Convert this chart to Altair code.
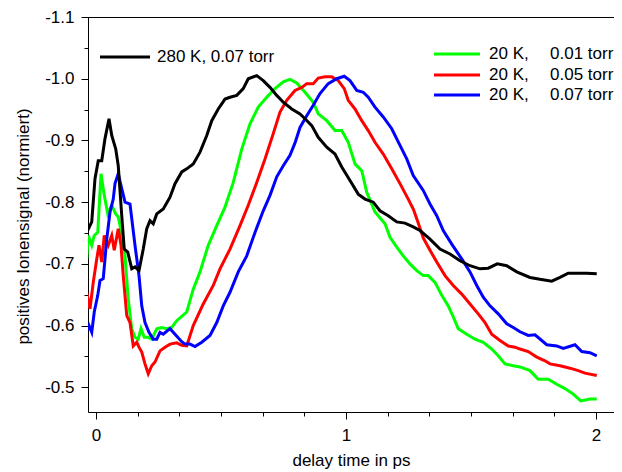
import altair as alt
import pandas as pd

# ---------------- data ----------------
black_x = [-0.037, -0.017, -0.004, 0.009, 0.023, 0.036, 0.052, 0.063, 0.079, 0.089, 0.103, 0.113, 0.127,
           0.143, 0.156, 0.172, 0.189, 0.203, 0.216, 0.229, 0.243, 0.269, 0.296, 0.316, 0.343, 0.363,
           0.389, 0.416, 0.443, 0.463, 0.489, 0.516, 0.536, 0.563, 0.589, 0.609, 0.643, 0.669, 0.696,
           0.723, 0.749, 0.783, 0.816, 0.829, 0.863, 0.889, 0.923, 0.956, 0.983, 1.016, 1.049, 1.076,
           1.109, 1.136, 1.169, 1.203, 1.236, 1.269, 1.296, 1.336, 1.376, 1.416, 1.456, 1.496, 1.536,
           1.569, 1.605, 1.643, 1.683, 1.736, 1.776, 1.823, 1.856, 1.889, 1.923, 1.963, 2.003]
black_y = [-0.751, -0.768, -0.838, -0.867, -0.867, -0.903, -0.935, -0.908, -0.886, -0.859, -0.778, -0.724,
           -0.719, -0.692, -0.695, -0.689, -0.724, -0.757, -0.770, -0.765, -0.781, -0.789, -0.808, -0.830,
           -0.849, -0.854, -0.862, -0.881, -0.908, -0.932, -0.951, -0.967, -0.970, -0.973, -0.984, -1.000,
           -1.005, -0.997, -0.986, -0.973, -0.962, -0.951, -0.943, -0.938, -0.924, -0.905, -0.889, -0.878,
           -0.857, -0.835, -0.813, -0.805, -0.800, -0.786, -0.778, -0.768, -0.766, -0.760, -0.754, -0.740,
           -0.724, -0.716, -0.705, -0.697, -0.692, -0.693, -0.700, -0.697, -0.687, -0.678, -0.675, -0.672,
           -0.678, -0.685, -0.685, -0.685, -0.684]

green_x = [-0.037, -0.031, -0.017, -0.007, 0.007, 0.020, 0.033, 0.047, 0.063, 0.079, 0.089, 0.100, 0.116,
           0.129, 0.143, 0.156, 0.169, 0.180, 0.193, 0.209, 0.223, 0.243, 0.263, 0.283, 0.303, 0.323,
           0.343, 0.363, 0.389, 0.416, 0.449, 0.483, 0.516, 0.549, 0.583, 0.616, 0.649, 0.683, 0.716,
           0.749, 0.776, 0.803, 0.836, 0.869, 0.889, 0.923, 0.956, 0.983, 1.009, 1.036, 1.063, 1.083,
           1.116, 1.156, 1.176, 1.203, 1.229, 1.256, 1.283, 1.309, 1.329, 1.356, 1.383, 1.409, 1.429,
           1.449, 1.483, 1.516, 1.549, 1.583, 1.609, 1.636, 1.669, 1.696, 1.736, 1.769, 1.809, 1.843,
           1.876, 1.909, 1.939, 1.976, 2.003]
green_y = [-0.708, -0.746, -0.730, -0.746, -0.751, -0.846, -0.811, -0.781, -0.795, -0.781, -0.776, -0.754,
           -0.713, -0.643, -0.595, -0.581, -0.578, -0.595, -0.581, -0.581, -0.578, -0.595, -0.597, -0.595,
           -0.597, -0.608, -0.615, -0.622, -0.659, -0.687, -0.730, -0.762, -0.792, -0.832, -0.886, -0.927,
           -0.954, -0.970, -0.984, -0.995, -0.999, -0.993, -0.978, -0.962, -0.943, -0.932, -0.916, -0.916,
           -0.897, -0.862, -0.851, -0.816, -0.784, -0.765, -0.743, -0.727, -0.713, -0.700, -0.689, -0.681,
           -0.681, -0.670, -0.649, -0.632, -0.614, -0.595, -0.586, -0.578, -0.573, -0.562, -0.551, -0.538,
           -0.535, -0.533, -0.527, -0.513, -0.513, -0.505, -0.498, -0.489, -0.478, -0.481, -0.481]

red_x = [-0.037, -0.024, -0.011, 0.003, 0.012, 0.023, 0.033, 0.049, 0.063, 0.073, 0.089, 0.100, 0.109,
         0.123, 0.136, 0.149, 0.163, 0.172, 0.183, 0.196, 0.209, 0.223, 0.236, 0.256, 0.276, 0.296,
         0.323, 0.343, 0.363, 0.389, 0.429, 0.469, 0.496, 0.536, 0.576, 0.609, 0.643, 0.676, 0.709,
         0.736, 0.763, 0.796, 0.823, 0.843, 0.869, 0.889, 0.916, 0.943, 0.969, 0.993, 1.009, 1.036,
         1.063, 1.089, 1.116, 1.149, 1.183, 1.216, 1.249, 1.270, 1.290, 1.309, 1.336, 1.363, 1.396,
         1.429, 1.463, 1.496, 1.529, 1.556, 1.583, 1.616, 1.649, 1.676, 1.696, 1.729, 1.763, 1.796,
         1.816, 1.856, 1.896, 1.929, 1.956, 2.003]
red_y = [-0.654, -0.627, -0.670, -0.708, -0.730, -0.703, -0.746, -0.730, -0.746, -0.722, -0.757, -0.730,
         -0.681, -0.616, -0.605, -0.567, -0.573, -0.565, -0.557, -0.538, -0.522, -0.535, -0.541, -0.559,
         -0.565, -0.570, -0.572, -0.568, -0.567, -0.600, -0.635, -0.665, -0.692, -0.724, -0.762, -0.795,
         -0.832, -0.870, -0.911, -0.946, -0.965, -0.981, -0.986, -0.992, -0.992, -1.001, -1.003, -1.003,
         -0.997, -0.984, -0.965, -0.951, -0.932, -0.916, -0.897, -0.878, -0.854, -0.830, -0.805, -0.788,
         -0.765, -0.742, -0.722, -0.703, -0.681, -0.665, -0.651, -0.635, -0.619, -0.605, -0.586, -0.576,
         -0.567, -0.565, -0.562, -0.558, -0.549, -0.543, -0.538, -0.535, -0.531, -0.527, -0.523, -0.519]

blue_x = [-0.037, -0.028, -0.017, -0.007, 0.007, 0.016, 0.029, 0.043, 0.056, 0.069, 0.076, 0.089, 0.103,
          0.116, 0.136, 0.156, 0.172, 0.183, 0.196, 0.212, 0.229, 0.243, 0.256, 0.269, 0.296, 0.316,
          0.343, 0.356, 0.376, 0.396, 0.423, 0.456, 0.483, 0.509, 0.536, 0.569, 0.603, 0.636, 0.669,
          0.696, 0.723, 0.749, 0.776, 0.796, 0.816, 0.843, 0.869, 0.896, 0.929, 0.963, 0.993, 1.016,
          1.043, 1.069, 1.089, 1.116, 1.149, 1.183, 1.216, 1.243, 1.269, 1.309, 1.336, 1.363, 1.389,
          1.423, 1.463, 1.496, 1.523, 1.549, 1.576, 1.609, 1.643, 1.669, 1.696, 1.729, 1.756, 1.803,
          1.843, 1.869, 1.916, 1.943, 1.976, 2.003]
blue_y = [-0.592, -0.600, -0.589, -0.622, -0.649, -0.673, -0.676, -0.740, -0.784, -0.805, -0.830, -0.846,
          -0.822, -0.800, -0.797, -0.730, -0.681, -0.632, -0.605, -0.589, -0.578, -0.578, -0.589, -0.586,
          -0.595, -0.586, -0.574, -0.570, -0.570, -0.566, -0.573, -0.584, -0.605, -0.632, -0.654, -0.687,
          -0.713, -0.751, -0.786, -0.811, -0.841, -0.859, -0.876, -0.896, -0.921, -0.940, -0.957, -0.976,
          -0.992, -1.000, -1.004, -0.997, -0.981, -0.978, -0.970, -0.954, -0.938, -0.919, -0.892, -0.870,
          -0.843, -0.819, -0.797, -0.778, -0.754, -0.732, -0.708, -0.687, -0.665, -0.646, -0.632, -0.619,
          -0.603, -0.597, -0.590, -0.584, -0.585, -0.569, -0.567, -0.563, -0.569, -0.558, -0.556, -0.551]

series_names = ["20 K,    0.01 torr", "20 K,    0.05 torr", "20 K,    0.07 torr", "280 K, 0.07 torr"]
series_x = [green_x, red_x, blue_x, black_x]
series_y = [green_y, red_y, blue_y, black_y]
series_colors = ["#00ff00", "#ff0000", "#0000ff", "#000000"]

x_major = [0, 1, 2]
x_minor = [i / 6 for i in range(0, 13)]
y_major = [-1.1, -1.0, -0.9, -0.8, -0.7, -0.6, -0.5]
y_minor = [-1.05, -0.95, -0.85, -0.75, -0.65, -0.55]

x_title = "delay time in ps"
y_title = "positives Ionensignal (normiert)"

# ---------------- layout ----------------
W, H = 526, 395
FONT = "Liberation Sans"
FS = 17
x_scale = alt.Scale(domain=[-0.032, 2.072], nice=False, zero=False)
y_scale = alt.Scale(domain=[-1.1, -0.46], nice=False, zero=False, reverse=True)

label_expr = "(datum.value < 0 ? '-' : '') + format(abs(datum.value), '.1f')"

rows = []
for name, xs, ys in zip(series_names, series_x, series_y):
    for a, b in zip(xs, ys):
        rows.append({"series": name, "x": a, "y": b})
df = pd.DataFrame(rows)

layers = []

# invisible layer carrying the minor tick axes
minor = alt.Chart(df).mark_line(opacity=0).encode(
    x=alt.X("x:Q", scale=x_scale, axis=alt.Axis(orient="bottom", values=x_minor, labels=False,
                                                 tickSize=4, domain=False, grid=False, title="",
                                                 tickColor="black")),
    y=alt.Y("y:Q", scale=y_scale, axis=alt.Axis(orient="left", values=y_minor, labels=False,
                                                 tickSize=4, domain=False, grid=False, title="",
                                                 tickColor="black")),
)
layers.append(minor)

# invisible layer carrying the main axes
main = alt.Chart(df).mark_line(opacity=0).encode(
    x=alt.X("x:Q", scale=x_scale, axis=alt.Axis(
        orient="bottom", values=x_major, labelExpr="format(datum.value, 'd')", tickSize=7,
        labelPadding=8, labelOverlap=False, labelFontSize=FS, labelFont=FONT, labelColor="black",
        tickColor="black", domainColor="black", grid=False, title=x_title, titleFontSize=FS,
        titleFont=FONT, titleFontWeight="normal", titleColor="black", titlePadding=9)),
    y=alt.Y("y:Q", scale=y_scale, axis=alt.Axis(
        orient="left", values=y_major, labelExpr=label_expr, tickSize=7, labelPadding=7,
        labelOverlap=False, labelFontSize=FS, labelFont=FONT, labelColor="black", tickColor="black",
        domainColor="black", grid=False, title=y_title, titleFontSize=FS, titleFont=FONT,
        titleFontWeight="normal", titleColor="black", titlePadding=12, titleY=209)),
)
layers.append(main)

for name, col in zip(series_names, series_colors):
    sub = df[df["series"] == name]
    layers.append(
        alt.Chart(sub).mark_line(color=col, strokeWidth=3, clip=True).encode(
            x=alt.X("x:Q", scale=x_scale, axis=None),
            y=alt.Y("y:Q", scale=y_scale, axis=None))
    )

# top frame line
layers.append(
    alt.Chart(pd.DataFrame({"a": [0]})).mark_rule(color="black", strokeWidth=1).encode(
        x=alt.value(0), x2=alt.value(W), y=alt.value(0.5))
)

# legends (manual)
leg_specs = [
    (3, 12, 62, 40, [(69, "280 K, 0.07 torr")]),
    (0, 346, 392, 37, [(401, "20 K,"), (462, "0.01 torr")]),
    (1, 346, 392, 58, [(401, "20 K,"), (462, "0.05 torr")]),
    (2, 346, 392, 78, [(401, "20 K,"), (462, "0.07 torr")]),
]
for idx, x1, x2, yy, pieces in leg_specs:
    layers.append(
        alt.Chart(pd.DataFrame({"a": [0]})).mark_rule(color=series_colors[idx], strokeWidth=3).encode(
            x=alt.value(x1), x2=alt.value(x2), y=alt.value(yy))
    )
    for tx, txt in pieces:
        layers.append(
            alt.Chart(pd.DataFrame({"t": [txt]})).mark_text(
                align="left", baseline="middle", font=FONT, fontSize=FS, color="black").encode(
                x=alt.value(tx), y=alt.value(yy), text="t:N")
        )

chart = alt.layer(*layers).resolve_axis(x="independent", y="independent").properties(
    width=W, height=H,
    autosize=alt.AutoSizeParams(type="none"),
    padding={"left": 80, "top": 9, "right": 0, "bottom": 60},
).configure_view(stroke=None).configure(background="white")

chart.save("out.html", embed_options={"renderer": "svg", "actions": False})
